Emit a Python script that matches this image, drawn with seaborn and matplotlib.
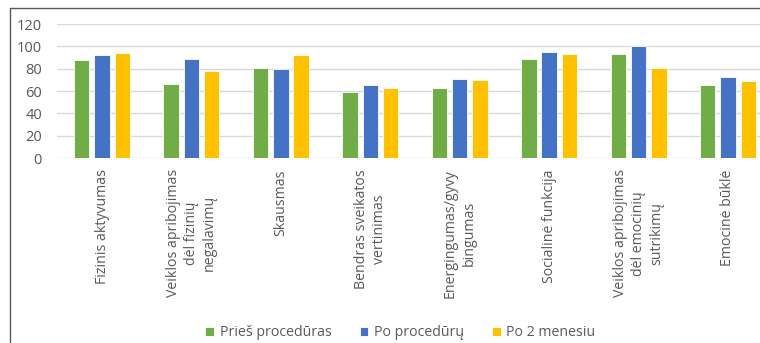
import matplotlib
matplotlib.use("Agg")
import matplotlib.pyplot as plt
from matplotlib.lines import Line2D
import seaborn as sns
import pandas as pd

categories = [
    "Fizinis aktyvumas",
    "Veiklos apribojimas\ndėl fizinių\nnegalavimų",
    "Skausmas",
    "Bendras sveikatos\nvertinimas",
    "Energingumas/gyvy\nbingumas",
    "Socialinė funkcija",
    "Veiklos apribojimas\ndėl emocinių\nsutrikimų",
    "Emocinė būklė",
]
series_names = ["Prieš procedūras", "Po procedūrų", "Po 2 menesiu"]
pries = [88, 66, 81, 59, 63, 89, 93, 65]
po = [92, 89, 80, 65, 71, 95, 100, 73]
po2 = [94, 78, 92, 63, 70, 93, 81, 69]
y_ticks = [0, 20, 40, 60, 80, 100, 120]

colors = ["#70AD47", "#4472C4", "#FFC000"]

rows = []
for name, vals in zip(series_names, [pries, po, po2]):
    for cat, v in zip(categories, vals):
        rows.append({"Kategorija": cat, "Serija": name, "Reikšmė": v})
df = pd.DataFrame(rows)

sns.set_theme(style="white")
plt.rcParams["font.family"] = ["Open Sans", "DejaVu Sans"]

fig = plt.figure(figsize=(7.6, 3.43), dpi=100)
ax = fig.add_axes([0.0754, 0.539, 0.9413, 0.391])

sns.barplot(data=df, x="Kategorija", y="Reikšmė", hue="Serija",
            order=categories, hue_order=series_names, palette=colors,
            width=0.68, gap=0.24, edgecolor="white", linewidth=0.6,
            saturation=1, ax=ax, legend=True)

ax.set_ylim(0, 120)
ax.set_yticks(y_ticks)
ax.set_xlim(-0.5, len(categories) - 0.5)
ax.yaxis.grid(True, color="#d9d9d9", linewidth=1)
ax.set_axisbelow(True)
for s in ax.spines.values():
    s.set_visible(False)
ax.set_xlabel("")
ax.set_ylabel("")
ax.tick_params(axis="both", length=0, colors="#595959")
ax.tick_params(axis="y", pad=11, labelsize=10.5)
ax.tick_params(axis="x", pad=8)
ax.set_xticks(range(len(categories)))
ax.set_xticklabels(categories, rotation=90, ha="center", va="top",
                   multialignment="center", color="#595959", fontsize=10.2,
                   linespacing=1.3)

handles, labels = ax.get_legend_handles_labels()
ax.get_legend().remove()
fig.legend(handles, labels, loc="center", bbox_to_anchor=(0.527, 0.03),
           ncol=3, frameon=False, fontsize=10.2, handlelength=0.6,
           handleheight=0.6, handletextpad=0.4, columnspacing=2.0,
           labelcolor="#595959")

# chart frame edges
fig.add_artist(Line2D([10 / 760, 10 / 760], [0, 1 - 8 / 343],
                      transform=fig.transFigure, color="#595959", linewidth=1))
fig.add_artist(Line2D([10 / 760, 1], [1 - 8 / 343, 1 - 8 / 343],
                      transform=fig.transFigure, color="#595959", linewidth=1))

fig.savefig("out.png", dpi=100)
